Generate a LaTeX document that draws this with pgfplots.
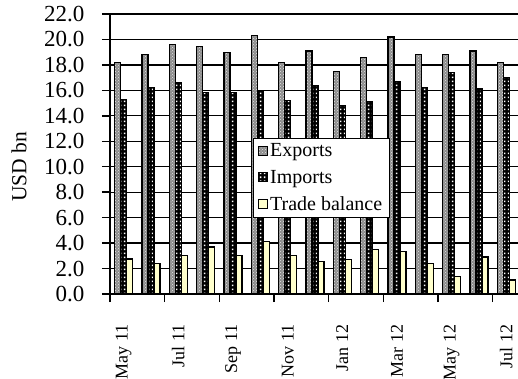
\documentclass[border=0pt]{standalone}
\usepackage{pgfplots}
\usepackage{pgfplotstable}
\pgfplotsset{compat=1.18}
\usetikzlibrary{patterns}
\usepackage{fontspec}
\setmainfont{Liberation Serif}
\definecolor{tradeyellow}{RGB}{255,255,204}
\definecolor{expgray}{RGB}{140,140,140}
\newcommand\fy{\fontsize{23}{26}\selectfont}
\newcommand\fx{\fontsize{18}{22}\selectfont}
\newcommand\fl{\fontsize{20}{24}\selectfont}
\newcommand\fyl{\fontsize{21.5}{25}\selectfont}
\pgfdeclarepatternformonly{whitesq}{\pgfqpoint{0pt}{0pt}}{\pgfqpoint{3.5pt}{4pt}}{\pgfqpoint{3.5pt}{4pt}}{%
  \pgfpathrectangle{\pgfqpoint{0.9pt}{1pt}}{\pgfqpoint{1.7pt}{2pt}}\pgfusepath{fill}}
\pgfplotstableread{
idx exp imp bal
0 18.2 15.3 2.75
1 18.8 16.2 2.4
2 19.6 16.6 3.0
3 19.45 15.85 3.7
4 19.0 15.85 3.0
5 20.3 15.9 4.15
6 18.2 15.2 3.0
7 19.1 16.4 2.55
8 17.5 14.8 2.7
9 18.6 15.1 3.5
10 20.2 16.7 3.35
11 18.8 16.2 2.4
12 18.8 17.4 1.4
13 19.1 16.1 2.9
14 18.2 17.0 1.1
}\datatable
\begin{document}
\begin{tikzpicture}
\path[use as bounding box] (-110pt,-85pt) rectangle (408pt,294pt);
\begin{axis}[
  at={(0pt,0pt)}, anchor=south west,
  scale only axis, width=410pt, height=280pt,
  xmin=-0.5, xmax=14.5, ymin=0, ymax=22,
  axis line style={line width=2.2pt},
  tick pos=left,
  ytick={0,2,...,22},
  /pgf/number format/fixed, /pgf/number format/fixed zerofill,
  /pgf/number format/precision=1, /pgf/number format/assume math mode=true,
  yticklabel style={font=\fy, xshift=-14pt},
  ymajorgrids, grid style={black, line width=1.3pt},
  tick align=outside, major tick length=8pt,
  tick style={black, line width=1.5pt},
  xtick={0,2,...,14},
  xticklabels={May 11, Jul 11, Sep 11, Nov 11, Jan 12, Mar 12, May 12, Jul 12},
  xtick style={draw=none},
  xticklabel style={yshift=-19pt, rotate=90, anchor=east, font=\fx},
  extra x ticks={-0.5,1.5,...,13.5},
  extra x tick labels={},
  extra x tick style={grid=none, xtick style={draw=black, line width=1.5pt}},
  ylabel={USD bn},
  every axis y label/.style={at={(axis description cs:0,0.4545)}, xshift=-91pt, rotate=90, anchor=center, font=\fyl},
  ybar=0pt, bar width=6pt,
  legend style={at={(rel axis cs:0.348,0.557)}, anchor=north west, draw=black, line width=1pt, fill=white, font=\fl, inner xsep=5pt, inner ysep=3pt, row sep=8pt},
  legend cell align=left,
  sq/.style={legend image code/.code={\draw[##1, line width=1pt] (0pt,-4.5pt) rectangle (9pt,4.5pt);}},
]
\addplot+[sq, draw=black, line width=1.3pt, fill=expgray, postaction={pattern=crosshatch dots, pattern color=white!80!gray}] table[x=idx, y=exp] {\datatable};
\addlegendentry{Exports}
\addplot+[sq, draw=black, line width=1.3pt, fill=black, postaction={pattern=whitesq, pattern color=white}] table[x=idx, y=imp] {\datatable};
\addlegendentry{Imports}
\addplot+[sq, draw=black, line width=1.3pt, fill=tradeyellow] table[x=idx, y=bal] {\datatable};
\addlegendentry{Trade balance}
\end{axis}
\end{tikzpicture}
\end{document}
